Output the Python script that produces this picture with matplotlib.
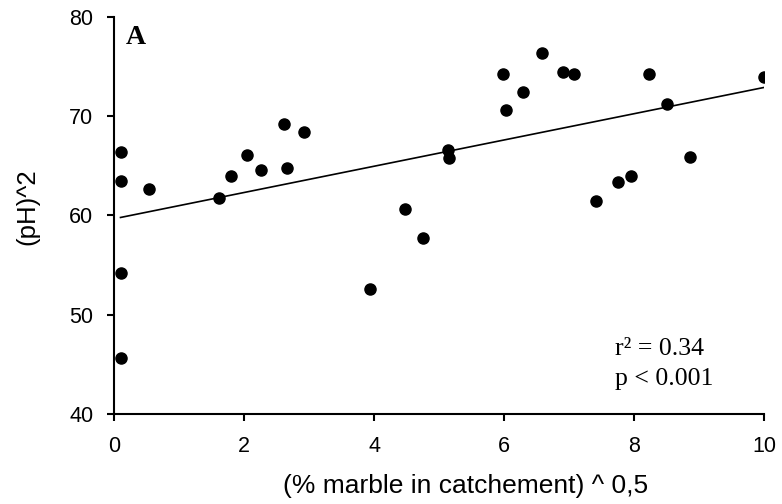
import numpy as np
import matplotlib
matplotlib.use('Agg')
import matplotlib.pyplot as plt

# sqrt(% marble in catchment) vs (pH)^2
marble = [0.10, 0.10, 0.10, 0.10, 0.54, 1.62, 1.80, 2.05, 2.26, 2.61,
          2.66, 2.93, 3.94, 4.47, 4.76, 5.14, 5.15, 5.99, 6.03, 6.29,
          6.58, 6.91, 7.08, 7.42, 7.75, 7.96, 8.23, 8.51, 8.86, 10.0]
ph_sq = [66.4, 63.5, 54.2, 45.6, 62.7, 61.8, 64.0, 66.1, 64.6, 69.2,
         64.8, 68.4, 52.6, 60.7, 57.7, 66.6, 65.8, 74.3, 70.6, 72.4,
         76.4, 74.5, 74.3, 61.5, 63.4, 64.0, 74.3, 71.2, 65.9, 74.0]

trend_x = [0.10, 10.0]
trend_y = [59.8, 72.9]

xticks = [0, 2, 4, 6, 8, 10]
yticks = [40, 50, 60, 70, 80]

plt.rcParams['font.family'] = ['Liberation Sans', 'DejaVu Sans']
serif = ['Liberation Serif', 'DejaVu Serif']

fig = plt.figure(figsize=(7.82, 5.04), dpi=100)
ax = fig.add_axes([0.1458, 0.1786, 0.8312, 0.7877])

ax.plot(marble, ph_sq, 'o', color='black', markersize=8)
ax.plot(trend_x, trend_y, color='black', linewidth=1.2)

ax.set_xlim(0, 10)
ax.set_ylim(40, 80)
ax.set_xticks(xticks)
ax.set_yticks(yticks)
ax.tick_params(axis='both', labelsize=15.5, length=5, width=1.5, direction='out')
ax.tick_params(axis='x', pad=11)
ax.tick_params(axis='y', pad=10)

for side in ['top', 'right']:
    ax.spines[side].set_visible(False)
for side in ['left', 'bottom']:
    ax.spines[side].set_linewidth(1.5)

ax.set_xlabel('(% marble in catchement) ^ 0,5', fontsize=19, va='center')
ax.xaxis.set_label_coords(0.541, -0.182)
ax.set_ylabel('(pH)^2', fontsize=18.5, va='center')
ax.yaxis.set_label_coords(-0.134, 0.521)

ax.text(0.034, 0.948, 'A', transform=ax.transAxes, fontsize=20, fontweight='bold',
        family=serif, va='center', ha='center')
ax.text(0.771, 0.126, 'r² = 0.34\np < 0.001', transform=ax.transAxes, fontsize=18.5,
        family=serif, va='center', ha='left', linespacing=1.45)

fig.savefig('out.png', dpi=100)
